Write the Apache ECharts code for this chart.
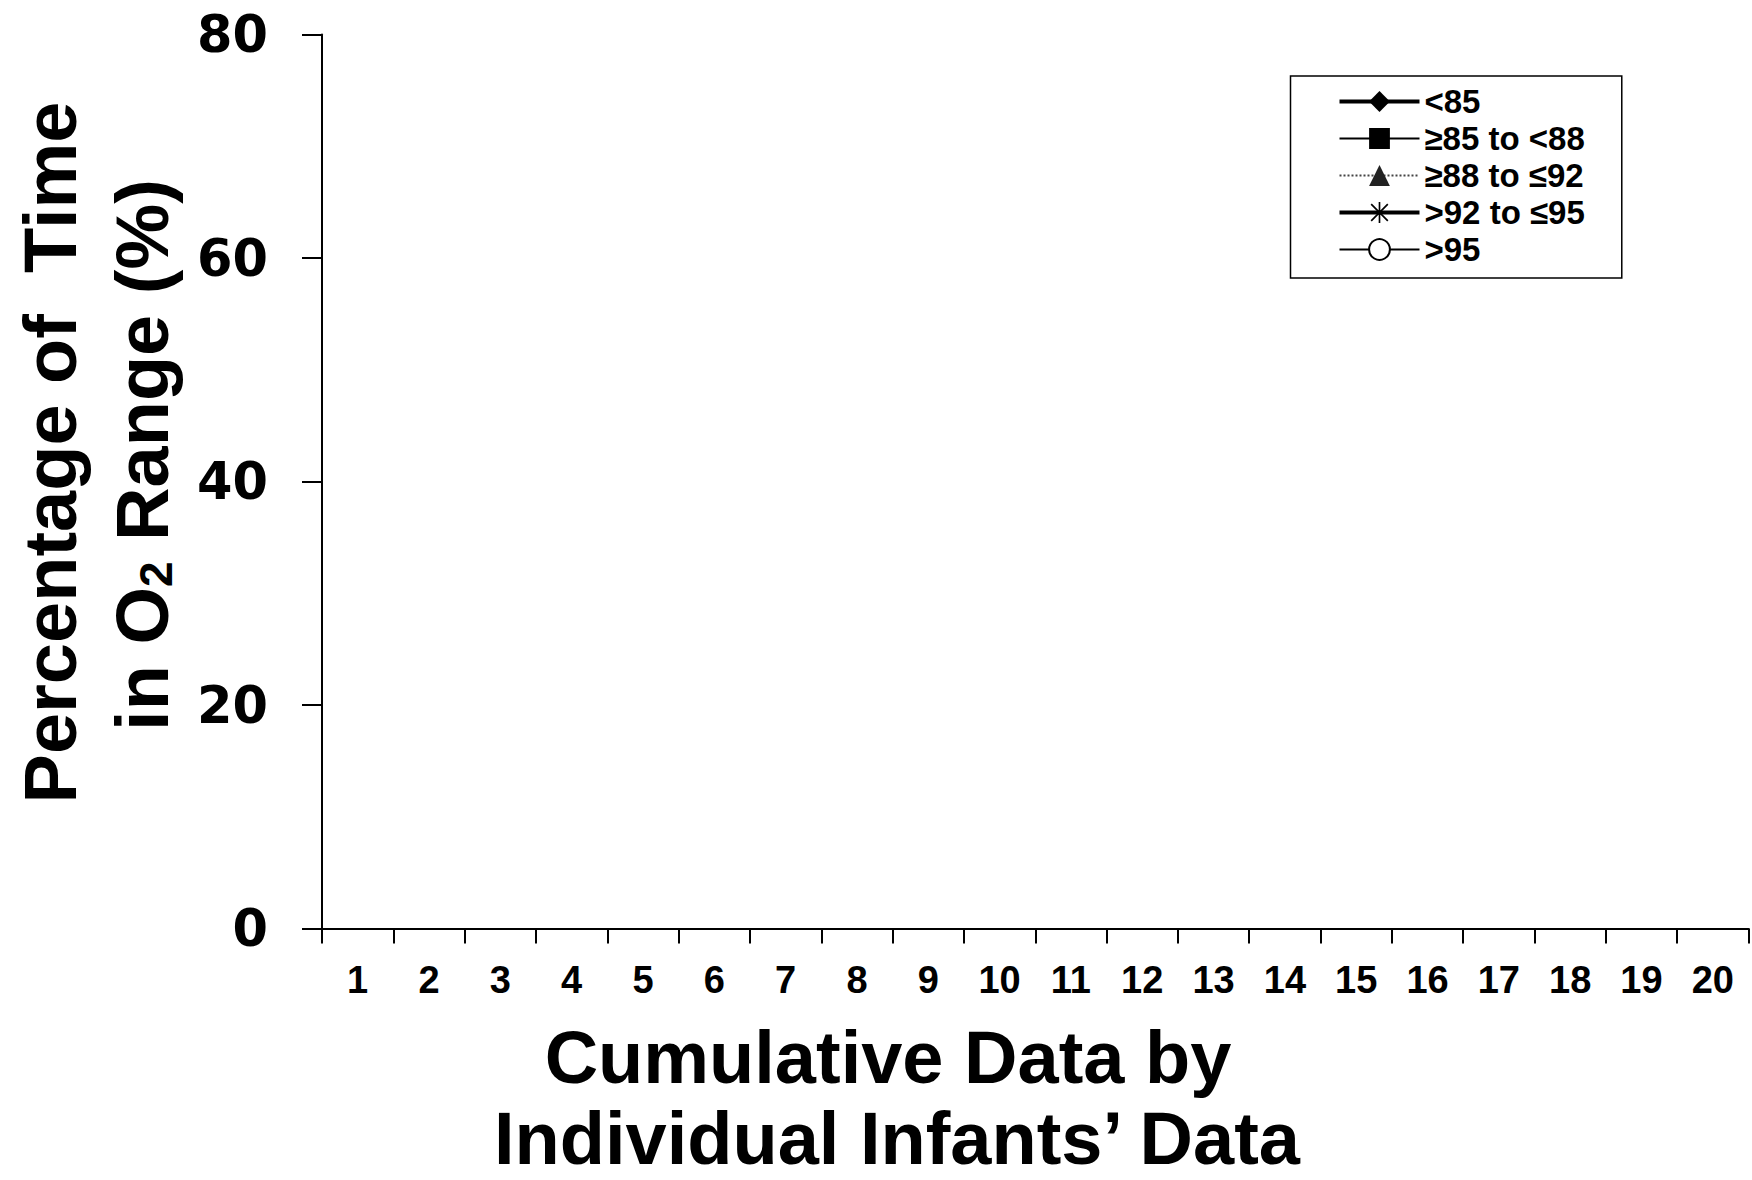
<!DOCTYPE html>
<html>
<head>
<meta charset="utf-8">
<title>Percentage of Time in O2 Range</title>
<script src="https://cdn.jsdelivr.net/npm/echarts@6/dist/echarts.min.js"></script>
<style>
  html, body { margin: 0; padding: 0; background: #fff; }
  #chart { width: 1752px; height: 1180px; }
</style>
</head>
<body>
<div id="chart"></div>
<script>
// Infant identifiers along the x axis
const infants = ['1','2','3','4','5','6','7','8','9','10','11','12','13','14','15','16','17','18','19','20'];

// Percentage of time spent in each SpO2 range, per infant (no values plotted)
const below85 = [];
const from85to88 = [];
const from88to92 = [];
const from92to95 = [];
const above95 = [];

// Y axis scale
const yMin = 0;
const yMax = 80;
const yStep = 20;

const seriesNames = ['<85', '≥85 to <88', '≥88 to ≤92', '>92 to ≤95', '>95'];

// Asterisk marker: vertical bar, two diagonals and a horizontal bar
const asterisk = 'path://M9.2,0L10.8,0L10.8,20L9.2,20Z' +
  'M2.57,1.43L18.57,17.43L17.43,18.57L1.43,2.57Z' +
  'M17.43,1.43L18.57,2.57L2.57,18.57L1.43,17.43Z' +
  'M0,9.2L20,9.2L20,10.8L0,10.8Z';

const boldName = { fontFamily: 'Liberation Sans', fontWeight: 'bold', fontSize: 74, fill: '#000' };

const chart = echarts.init(document.getElementById('chart'), null, { renderer: 'svg' });

chart.setOption({
  animation: false,
  backgroundColor: '#fff',
  grid: { left: 322, right: 3.5, top: 34.6, bottom: 251.5, containLabel: false },
  legend: {
    orient: 'vertical',
    left: 1290.5,
    top: 76,
    padding: [9, 37, 12, 47],
    borderColor: '#000',
    borderWidth: 1.5,
    itemWidth: 80,
    itemHeight: 26,
    itemGap: 4,
    data: [
      { name: seriesNames[0], lineStyle: { width: 4 } },
      { name: seriesNames[1], lineStyle: { width: 2 } },
      { name: seriesNames[2], lineStyle: { width: 2 } },
      { name: seriesNames[3], lineStyle: { width: 4 } },
      { name: seriesNames[4], lineStyle: { width: 2 } }
    ],
    textStyle: { fontFamily: 'Liberation Sans', fontWeight: 'bold', fontSize: 33, lineHeight: 30, color: '#000' }
  },
  xAxis: {
    type: 'category',
    data: infants,
    boundaryGap: true,
    axisLine: { lineStyle: { color: '#000', width: 2 } },
    axisTick: { show: true, length: 15, lineStyle: { color: '#000', width: 2 } },
    axisLabel: { margin: 32, fontFamily: 'Liberation Sans', fontWeight: 'bold', fontSize: 38, color: '#000' },
    splitLine: { show: false }
  },
  yAxis: {
    type: 'value',
    min: yMin,
    max: yMax,
    interval: yStep,
    axisLine: { show: true, lineStyle: { color: '#000', width: 2 } },
    axisTick: { show: true, length: 20, lineStyle: { color: '#000', width: 2 } },
    axisLabel: { margin: 54, fontFamily: 'DejaVu Sans', fontWeight: 'bold', fontSize: 51, color: '#000' },
    splitLine: { show: false }
  },
  graphic: [
    {
      type: 'text', x: 50.4, y: 452.5, rotation: Math.PI / 2,
      style: Object.assign({ text: 'Percentage of  Time', align: 'center', verticalAlign: 'middle' }, boldName)
    },
    {
      type: 'text', x: 142, y: 455, rotation: Math.PI / 2,
      style: {
        text: '{a|in O}{s|2}{a| Range (%)}',
        align: 'center', verticalAlign: 'middle',
        rich: {
          a: { fontFamily: 'Liberation Sans', fontWeight: 'bold', fontSize: 74, lineHeight: 74, fill: '#000', color: '#000' },
          s: { fontFamily: 'Liberation Sans', fontWeight: 'bold', fontSize: 46, lineHeight: 30, verticalAlign: 'bottom', fill: '#000', color: '#000' }
        }
      }
    },
    {
      type: 'text', x: 888, y: 1057,
      style: Object.assign({ text: 'Cumulative Data by', align: 'center', verticalAlign: 'middle', lineHeight: 62 }, boldName)
    },
    {
      type: 'text', x: 897, y: 1138,
      style: Object.assign({ text: 'Individual Infants’ Data', align: 'center', verticalAlign: 'middle', lineHeight: 56 }, boldName)
    }
  ],
  series: [
    {
      name: seriesNames[0], type: 'line', data: below85,
      symbol: 'diamond', symbolSize: 22,
      lineStyle: { color: '#000', width: 4 }, itemStyle: { color: '#000' }
    },
    {
      name: seriesNames[1], type: 'line', data: from85to88,
      symbol: 'rect', symbolSize: 20,
      lineStyle: { color: '#000', width: 2 }, itemStyle: { color: '#000' }
    },
    {
      name: seriesNames[2], type: 'line', data: from88to92,
      symbol: 'triangle', symbolSize: 20,
      lineStyle: { color: '#444', width: 2, type: 'dotted' }, itemStyle: { color: '#222' }
    },
    {
      name: seriesNames[3], type: 'line', data: from92to95,
      symbol: asterisk, symbolSize: 22,
      lineStyle: { color: '#000', width: 4 }, itemStyle: { color: '#000' }
    },
    {
      name: seriesNames[4], type: 'line', data: above95,
      symbol: 'emptyCircle', symbolSize: 20,
      lineStyle: { color: '#000', width: 2 }, itemStyle: { color: '#000', borderColor: '#000', borderWidth: 2 }
    }
  ]
});
</script>
</body>
</html>
